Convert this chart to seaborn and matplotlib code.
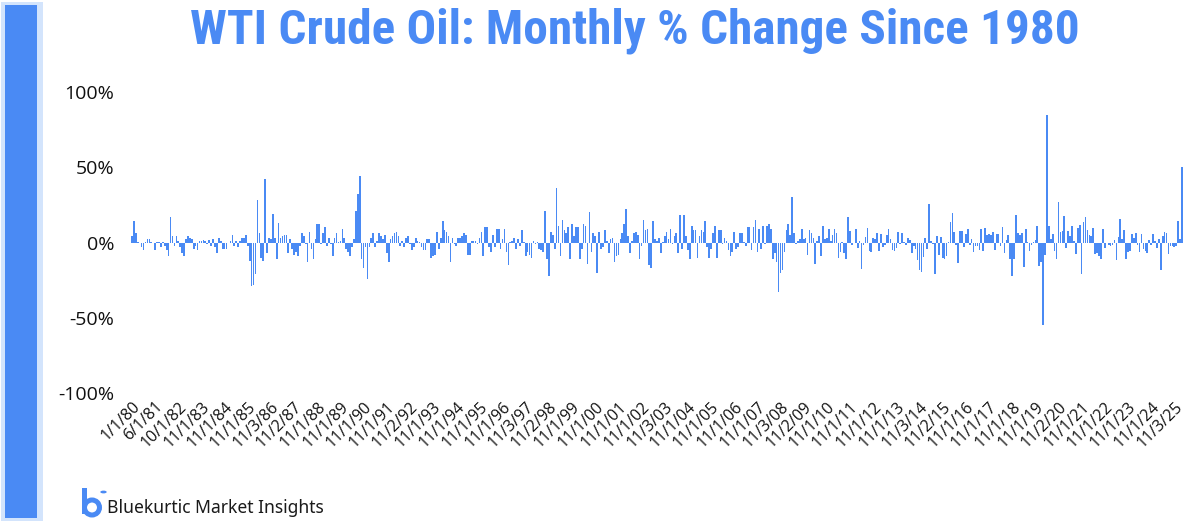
import numpy as np
import matplotlib
matplotlib.use("Agg")
import matplotlib.pyplot as plt
from matplotlib.patches import Rectangle, Circle, Ellipse
import seaborn as sns

chg_1980s = [
    4, 14, 6, 0.5, -0.5, -3, -5, 0.5, 2, 2, 0.3, -0.5,
    -5, 0.5, 0.3, -3, 0.5, -2, -5, -9, 17, 4, -2, 4,
    1, -3, -7, -9, 2, 4, 3, 2, -4, -2, -5, 1,
    1, 1.5, 1, -1, 1.5, -2, 2, -3, -7, 3, 1, -4,
    -4, -4, -0.5, 1, 5, -2, 1, -3, 1, 3, 3, 5,
    -2, -12, -29, -28, -21, 28, 6, -10, -12, 42, -7, 3,
    2, 19, 3, -11, 13, 3, 4, 5, 5, -7, 2, -4,
    -8, -6, -9, -2, 6, 4, -1, -13, 7, -4, -11, 2,
    12, 12, -1, 6, 10, -2, 3, -1, -9, 3, 6, 0.5,
    1, 9, 3, -4, -6, -9, -3, 2, 21, 32, 44, -11,
]
chg_1990s = [
    -17, -3, -24, -3, 3, 6, -3, 1, 6, 4, 2, 5,
    -7, -13, 2, 4, 6, 7, 4, -2, 1, -3, 3, 4,
    -1, -5, -3, 3, 1, 0.5, -3, -5, -5, 2, 2, -10,
    -9, -8, 7, -4, 3, 14, 8, 7, 4, -13, 3, -1,
    -2, 3, 3, 4, 6, 5, -8, -8, 1, 1, 1, -1,
    3, 7, -9, 10, 10, -3, -6, 5, -3, 9, 9, -4,
    2, 9, -6, -15, 0.5, 1, 3, -4, 2, -2, 8, 0.5,
    -9, -6, -8, -10, 1, -1, 0.5, -4, -5, -6, 21, -11,
    -22, 7, 5, -4, 36, 11, -9, 15, 8, 6, 10, -11,
    12, 4, 10, 10, -11, -4, 12, 11, -14, 20, -6, 6,
]
chg_2000s = [
    4, -20, 7, -4, -3, 8, 1, -7, 2, 3, -13, -9,
    -8, 2, 6, 12, 22, 4, -7, 1, 6, 7, 5, -11,
    -2, 15, 8, 9, -15, -17, 14, 2, 1, 3, -7, 0.5,
    4, 7, 2, 9, -1, 4, 6, -7, 18, -4, 18, 4,
    -5, -11, 11, 8, 8, -10, 4, 8, 7, 14, -3, -10,
    -4, 6, 11, -10, 8, 8, -1, 3, 1, -5, -9, -6,
    7, -4, -3, 6, 6, 0.5, -2, 10, 10, -5, 10, 15,
    -6, 9, -4, 11, -1, 11, 12, 9, -11, -7, -13, -33,
    -20, -18, -6, 8, 12, 5, 30, 6, -1, 1, 2, 9,
    2.6, 3, -8, 8, 6, 3, -14, 1, 4, -9, 11, 2,
]
chg_2010s = [
    3, 9, 1, 5, 9, 6, -10, -6, 0.5, -7, -11, 17,
    7.7, -1.4, -0.4, 8.7, -3.8, 1.1, -17.5, -1.8, 3.7, 9.6, -5.6, -6.5,
    2.8, 2.5, 6.2, -5.6, 5.6, -3.2, -1.9, 5.2, 8.8, 2.5, -5.3, -5.9,
    -3.8, 7.2, -1.0, 6.4, 0.5, -1.5, 3.0, 1.7, -6.8, -2.2, -4.2, -11.3,
    -18, -19.5, -9.4, 3.2, -4.2, 25.3, 1.1, -1.3, -20.8, 4.4, -8.4, 3.8,
    -10.6, -11.1, -9.2, 0.4, 13.6, 19.8, 6.9, -1.6, -13.9, 7.5, 7.9, -2.9,
    5.5, 8.7, -1.7, 2.3, -6.3, -2.5, -2.1, -4.7, 9.0, -5.9, 9.4, 5.2,
    5.6, 5.3, 7.1, -4.8, 5.4, 5.6, -2.2, 10.6, -7.3, 1.5, 4.9, -10.8,
    -22, -10.8, 18.5, 6.4, 5.1, 6.3, -16.3, 9.3, 0.2, -5.9, -1.9, 0.2,
    1.8, 10.7, -15.6, -13.2, -54.5, -8, 85, 10.7, 2.5, 5.8, -5.6, -11,
]
chg_2020s = [
    26.7, 7.0, 7.6, 17.8, -3.8, 7.5, 4.3, 10.8, 0.7, -7.4, 9.5, 11.4,
    -20.8, 13.6, 17.2, 8.6, 4.8, 4.4, 9.5, -7.8, -6.8, -9.2, -11.2, 8.9,
    -3.5, -0.4, -1.7, -2.3, -1.8, 1.5, -11.3, 3.7, 15.8, 2.2, 8.6, -10.8,
    -6.2, -5.7, 5.9, 3.2, 6.3, -1.5, -6.0, 5.9, -4.5, -5.6, -7.3, 1.6,
    -1.8, 5.5, 1.1, -3.8, 2.5, -18.6, 4.4, 7.1, 6.4, -7.6, -2.6, -2.2,
    -3, -2, 14, 2, 50,
]
tick_labels = [
    "1/1/80", "6/1/81", "10/1/82", "11/1/83", "11/1/84", "11/1/85", "11/3/86",
    "11/2/87", "11/1/88", "11/1/89", "11/1/90", "11/1/91", "11/2/92", "11/1/93",
    "11/1/94", "11/1/95", "11/1/96", "11/3/97", "11/2/98", "11/1/99", "11/1/00",
    "11/1/01", "11/1/02", "11/3/03", "11/1/04", "11/1/05", "11/1/06", "11/1/07",
    "11/3/08", "11/2/09", "11/1/10", "11/1/11", "11/1/12", "11/1/13", "11/3/14",
    "11/2/15", "11/1/16", "11/1/17", "11/1/18", "11/1/19", "11/2/20", "11/1/21",
    "11/1/22", "11/1/23", "11/1/24", "11/3/25",
]
y_ticks = [-100, -50, 0, 50, 100]
y_tick_labels = ["-100%", "-50%", "0%", "50%", "100%"]
title = "WTI Crude Oil: Monthly % Change Since 1980"
brand = "Bluekurtic Market Insights"

values = chg_1980s + chg_1990s + chg_2000s + chg_2010s + chg_2020s
n = len(values)
pos = np.arange(n)

BLUE = "#4a8af4"

sns.set_theme(style="white")
plt.rcParams["font.family"] = ["Open Sans", "DejaVu Sans"]

fig = plt.figure(figsize=(12, 5.23), dpi=100)
W, H = 1200, 523

# left decorative bar
fig.patches.append(Rectangle((1 / W, 2 / H), 42 / W, 519 / H, transform=fig.transFigure,
                             facecolor="#d3e4fc", edgecolor="none", zorder=0))
fig.patches.append(Rectangle((5 / W, 5 / H), 32 / W, 513 / H, transform=fig.transFigure,
                             facecolor=BLUE, edgecolor="none", zorder=1))

ax = fig.add_axes([131 / W, 1 - 393 / H, (1183 - 131) / W, (393 - 92) / H])
sns.barplot(x=pos, y=values, color=BLUE, saturation=1, width=0.85,
            errorbar=None, linewidth=0, edgecolor=BLUE, ax=ax)
for p in ax.patches:
    p.set_facecolor(BLUE)
    p.set_edgecolor("none")
    p.set_linewidth(0)

ax.set_xlim(-0.5, n - 0.5)
ax.set_ylim(-100, 100)
ax.set_yticks(y_ticks)
ax.set_yticklabels(y_tick_labels, fontsize=14, color="#111111")
ax.set_xticks(np.arange(0, n, 12)[:len(tick_labels)])
ax.set_xticklabels(tick_labels, rotation=45, ha="right", rotation_mode="anchor",
                   fontsize=11.5, color="#111111")
ax.tick_params(axis="both", length=0)
ax.tick_params(axis="y", pad=12)
ax.tick_params(axis="x", pad=4)
ax.set_xlabel("")
ax.set_ylabel("")
for s in ax.spines.values():
    s.set_visible(False)
ax.grid(False)

fig.text(0.529, 1 - 31 / H, title, ha="center", va="center", fontsize=35.5,
         fontweight="bold", color=BLUE,
         family=["Roboto Condensed", "Liberation Sans Narrow", "Roboto", "DejaVu Sans"])

# logo: a drawn "b" mark with a dot
fig.patches.append(Rectangle((82 / W, 1 - 514 / H), 5 / W, 26 / H, transform=fig.transFigure,
                             facecolor=BLUE, edgecolor="none"))
fig.patches.append(Ellipse((92 / W, 1 - 507.5 / H), 15 / W, 15 / H, transform=fig.transFigure,
                           facecolor="none", edgecolor=BLUE, linewidth=3.6))
fig.patches.append(Circle((103.5 / W, 1 - 492 / H), 3.2 / W, transform=fig.transFigure,
                          facecolor=BLUE, edgecolor="none"))
fig.text(107 / W, 1 - 508 / H, brand, ha="left", va="center", fontsize=12.6,
         color="#1a1a1a", family=["Noto Sans", "DejaVu Sans"])

fig.savefig("out.png", dpi=100)
